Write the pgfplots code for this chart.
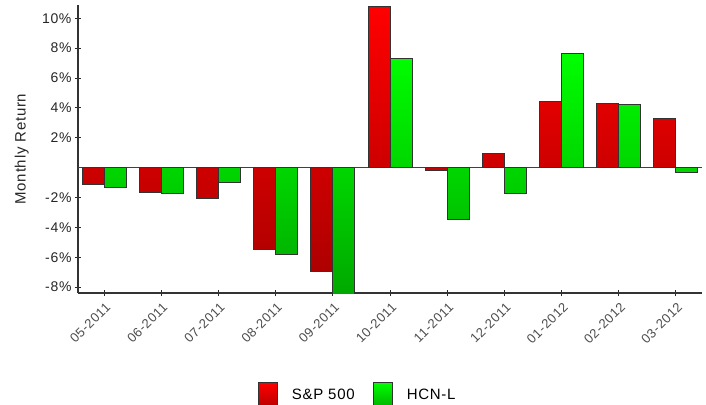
\documentclass[border=0pt]{standalone}
\usepackage{pgfplots}
\pgfplotsset{compat=1.18}
\usepackage{pgfplotstable}
\usepackage{fontspec}
\setmainfont[LetterSpace=5]{Liberation Sans}

\pgfplotstableread{
x sp hcn
0 -1.11 -1.34
1 -1.65 -1.74
2 -2.05 -1.02
3 -5.49 -5.78
4 -6.98 -9.00
5 10.78 7.32
6 -0.22 -3.46
7 0.98 -1.74
8 4.42 7.66
9 4.31 4.20
10 3.31 -0.33
}\datatable

\begin{document}
\begin{tikzpicture}
\begin{axis}[
  scale only axis, width=624pt, height=288pt,
  xmin=-0.455, xmax=10.455, ymin=-8.39, ymax=10.89,
  ybar=0pt, bar width=22pt,
  axis x line*=bottom, axis y line*=left,
  axis line style={black!80, line width=1.3pt},
  xtick={0,1,2,3,4,5,6,7,8,9,10},
  xticklabels={05-2011,06-2011,07-2011,08-2011,09-2011,10-2011,11-2011,12-2011,01-2012,02-2012,03-2012},
  ytick={-8,-6,-4,-2,2,4,6,8,10},
  yticklabels={-8\%,-6\%,-4\%,-2\%,2\%,4\%,6\%,8\%,10\%},
  tick align=center, major tick length=6pt,
  tick style={black!85, line width=1pt},
  x tick label style={rotate=45, anchor=north east, font=\fontsize{13}{15}\selectfont, text=black!70, yshift=-1pt},
  y tick label style={font=\fontsize{14}{16}\selectfont, text=black!85},
  extra y ticks={0}, extra y tick labels={},
  extra y tick style={grid=major, major grid style={black!75, line width=1.2pt}, major tick length=0pt},
  ylabel={Monthly Return},
  ylabel style={at={(axis description cs:-0.09,0.5)}, anchor=center, font=\fontsize{15}{17}\selectfont, text=black!85},
  legend style={at={(axis description cs:0.283,-0.302)}, anchor=north west, draw=none, fill=none,
    legend columns=2, font=\fontsize{15}{17}\selectfont,
    /tikz/every odd column/.append style={column sep=12pt},
    /tikz/every even column/.append style={column sep=16pt}},
  legend image code/.code={\draw[#1, line width=1pt] (0pt,-16pt) rectangle (19pt,12pt);},
]
\addplot[draw=black!80, line width=1pt, top color=red, bottom color=red!68!black] table[x=x,y=sp]{\datatable};
\addplot[draw=black!80, line width=1pt, top color=green, bottom color=green!65!black] table[x=x,y=hcn]{\datatable};
\legend{S\&P 500, HCN-L}
\coordinate (O) at (rel axis cs:0,0);
\end{axis}
\pgfresetboundingbox
\path (O) ++(-78pt,-111pt) rectangle ++(706pt,404pt);
\end{tikzpicture}
\end{document}
